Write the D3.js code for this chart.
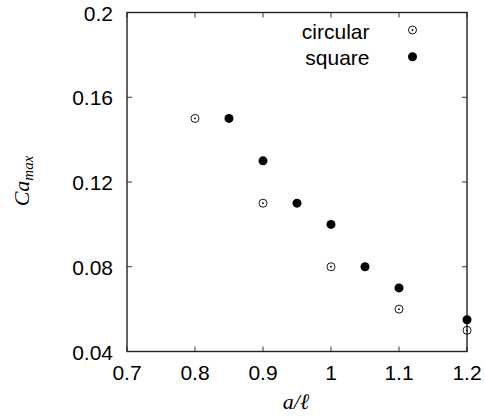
<!DOCTYPE html>
<html><head><meta charset="utf-8">
<script src="https://cdn.jsdelivr.net/npm/d3@7"></script>
<style>body{margin:0;background:#fff}svg{display:block}</style>
</head><body>
<script>
const circularX = [0.8, 0.9, 1.0, 1.1, 1.2];
const circularY = [0.15, 0.11, 0.08, 0.06, 0.05];
const squareX = [0.85, 0.9, 0.95, 1.0, 1.05, 1.1, 1.2];
const squareY = [0.15, 0.13, 0.11, 0.10, 0.08, 0.07, 0.055];
const xTicks = [0.7, 0.8, 0.9, 1.0, 1.1, 1.2];
const yTicks = [0.04, 0.08, 0.12, 0.16, 0.2];
const seriesNames = ["circular", "square"];

const W = 485, H = 416;
const L = 127, R = 467, T = 12.5, B = 351.5;
const svg = d3.select("body").append("svg").attr("width", W).attr("height", H);
const x = d3.scaleLinear().domain([0.7, 1.2]).range([L, R]);
const y = d3.scaleLinear().domain([0.04, 0.2]).range([B, T]);
const font = "'Liberation Sans', Arial, sans-serif";
const fs = 21;

// ticks (inward, all sides)
const tk = 5;
const tickG = svg.append("g").attr("stroke", "#333").attr("stroke-width", 1);
xTicks.forEach(v => {
  tickG.append("line").attr("x1", x(v)).attr("x2", x(v)).attr("y1", B).attr("y2", B - tk);
  tickG.append("line").attr("x1", x(v)).attr("x2", x(v)).attr("y1", T).attr("y2", T + tk);
});
yTicks.forEach(v => {
  tickG.append("line").attr("x1", L).attr("x2", L + tk).attr("y1", y(v)).attr("y2", y(v));
  tickG.append("line").attr("x1", R).attr("x2", R - tk).attr("y1", y(v)).attr("y2", y(v));
});

// frame
svg.append("rect").attr("x", L).attr("y", T).attr("width", R - L).attr("height", B - T)
  .attr("fill", "none").attr("stroke", "#222").attr("stroke-width", 1.4);

// tick labels
const fmt = d3.format("");
svg.append("g").selectAll("text").data(xTicks).join("text")
  .attr("x", d => x(d)).attr("y", B + 28.5).attr("text-anchor", "middle")
  .attr("font-family", font).attr("font-size", fs).attr("fill", "#000")
  .text(d => fmt(d));
svg.append("g").selectAll("text").data(yTicks).join("text")
  .attr("x", L - 14).attr("y", d => y(d) + 8).attr("text-anchor", "end")
  .attr("font-family", font).attr("font-size", fs).attr("fill", "#000")
  .text(d => fmt(d));

// axis labels
svg.append("text").attr("x", 296).attr("y", 409).attr("text-anchor", "middle")
  .attr("font-family", "'Liberation Serif', 'DejaVu Serif', serif").attr("font-style", "italic")
  .attr("font-size", 22).text("a/ℓ");
const yl = svg.append("text").attr("transform", "translate(29,181) rotate(-90)")
  .attr("text-anchor", "middle")
  .attr("font-family", "'Liberation Serif', 'DejaVu Serif', serif").attr("font-style", "italic")
  .attr("font-size", 22);
yl.append("tspan").text("Ca");
yl.append("tspan").attr("font-size", 15).attr("dy", 4).text("max");

// markers
function circMarker(g, cx, cy) {
  g.append("circle").attr("cx", cx).attr("cy", cy).attr("r", 4)
    .attr("fill", "none").attr("stroke", "#000").attr("stroke-width", 0.9);
  g.append("circle").attr("cx", cx).attr("cy", cy).attr("r", 0.9).attr("fill", "#000");
}
function dotMarker(g, cx, cy) {
  g.append("circle").attr("cx", cx).attr("cy", cy).attr("r", 4.5).attr("fill", "#000");
}
const pts = svg.append("g");
circularX.forEach((v, i) => circMarker(pts, x(v), y(circularY[i])));
squareX.forEach((v, i) => dotMarker(pts, x(v), y(squareY[i])));

// legend
const leg = svg.append("g");
seriesNames.forEach((n, i) => {
  const yy = 30 + i * 26.7;
  leg.append("text").attr("x", 369.5).attr("y", yy + 8.5).attr("text-anchor", "end")
    .attr("font-family", font).attr("font-size", fs).text(n);
  if (i === 0) circMarker(leg, 412.5, yy); else dotMarker(leg, 412.5, yy);
});
</script>
</body></html>
